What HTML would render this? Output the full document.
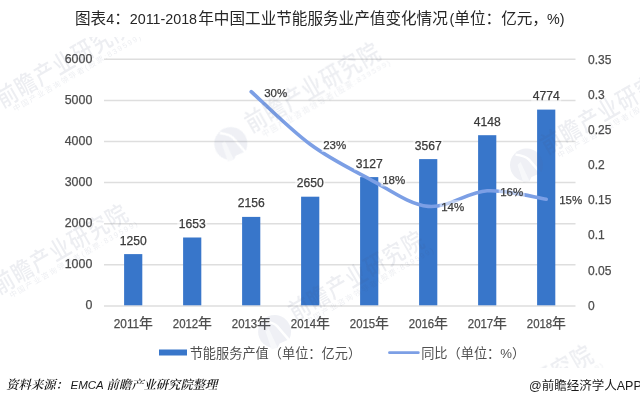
<!DOCTYPE html>
<html lang="zh-CN"><head><meta charset="utf-8"><title>图表4：2011-2018年中国工业节能服务业产值变化情况</title>
<style>html,body{margin:0;padding:0;background:#fff;}body{width:640px;height:404px;overflow:hidden;position:relative;font-family:"Liberation Sans", "Noto Sans CJK SC", sans-serif;}svg{position:absolute;left:0;top:0;display:block}text{font-family:"Liberation Sans", "Noto Sans CJK SC", sans-serif;}</style></head><body>
<svg width="640" height="404" viewBox="0 0 640 404">
<rect width="640" height="404" fill="#fff"/>
<g stroke="#dedede" stroke-width="1.5">
<line x1="104" y1="305.90" x2="575.5" y2="305.90"/>
<line x1="104" y1="264.80" x2="575.5" y2="264.80"/>
<line x1="104" y1="223.70" x2="575.5" y2="223.70"/>
<line x1="104" y1="182.60" x2="575.5" y2="182.60"/>
<line x1="104" y1="141.50" x2="575.5" y2="141.50"/>
<line x1="104" y1="100.40" x2="575.5" y2="100.40"/>
<line x1="104" y1="59.30" x2="575.5" y2="59.30"/>
</g>
<g fill="#3876ca">
<rect x="124.1" y="254.1" width="18.2" height="51.2"/>
<rect x="183.1" y="237.5" width="18.2" height="67.8"/>
<rect x="242.1" y="216.9" width="18.2" height="88.4"/>
<rect x="301.1" y="196.7" width="18.2" height="108.6"/>
<rect x="360.1" y="177.1" width="18.2" height="128.2"/>
<rect x="419.1" y="159.1" width="18.2" height="146.2"/>
<rect x="478.1" y="135.2" width="18.2" height="170.1"/>
<rect x="537.1" y="109.6" width="18.2" height="195.7"/>
</g>
<path d="M251.2,91.6 C261.0,100.4 290.5,129.8 310.2,144.3 C329.9,158.9 349.5,168.4 369.2,178.8 C388.9,189.1 408.5,204.4 428.2,206.4 C447.9,208.4 467.5,192.0 487.2,190.8 C506.9,189.6 536.4,197.8 546.2,199.2" fill="none" stroke="#7c9fe5" stroke-width="3.6" stroke-linecap="round" stroke-linejoin="round"/>
<g fill="#4c4c4c" stroke="#4c4c4c" stroke-width="0.25" font-size="12.4" text-anchor="end">
<text x="92.3" y="309.1">0</text>
<text x="92.3" y="268.0">1000</text>
<text x="92.3" y="226.9">2000</text>
<text x="92.3" y="185.8">3000</text>
<text x="92.3" y="144.7">4000</text>
<text x="92.3" y="103.6">5000</text>
<text x="92.3" y="62.5">6000</text>
</g>
<g fill="#4c4c4c" stroke="#4c4c4c" stroke-width="0.25" font-size="12" text-anchor="start">
<text x="588" y="309.6">0</text>
<text x="588" y="274.5">0.05</text>
<text x="588" y="239.3">0.1</text>
<text x="588" y="204.2">0.15</text>
<text x="588" y="169.0">0.2</text>
<text x="588" y="133.9">0.25</text>
<text x="588" y="98.7">0.3</text>
<text x="588" y="63.6">0.35</text>
</g>
<g fill="#4c4c4c" stroke="#4c4c4c" stroke-width="0.25" font-size="12.7">
<text x="113.8" y="327.6" textLength="25.4" lengthAdjust="spacingAndGlyphs">2011</text><text x="139.1" y="327.9" font-size="13.8">年</text>
<text x="172.8" y="327.6" textLength="25.4" lengthAdjust="spacingAndGlyphs">2012</text><text x="198.1" y="327.9" font-size="13.8">年</text>
<text x="231.8" y="327.6" textLength="25.4" lengthAdjust="spacingAndGlyphs">2013</text><text x="257.1" y="327.9" font-size="13.8">年</text>
<text x="290.8" y="327.6" textLength="25.4" lengthAdjust="spacingAndGlyphs">2014</text><text x="316.1" y="327.9" font-size="13.8">年</text>
<text x="349.8" y="327.6" textLength="25.4" lengthAdjust="spacingAndGlyphs">2015</text><text x="375.1" y="327.9" font-size="13.8">年</text>
<text x="408.8" y="327.6" textLength="25.4" lengthAdjust="spacingAndGlyphs">2016</text><text x="434.1" y="327.9" font-size="13.8">年</text>
<text x="467.8" y="327.6" textLength="25.4" lengthAdjust="spacingAndGlyphs">2017</text><text x="493.1" y="327.9" font-size="13.8">年</text>
<text x="526.8" y="327.6" textLength="25.4" lengthAdjust="spacingAndGlyphs">2018</text><text x="552.1" y="327.9" font-size="13.8">年</text>
</g>
<g fill="#fff" fill-opacity="0.5">
<rect x="118.2" y="233.2" width="30" height="14"/>
<rect x="177.2" y="216.6" width="30" height="14"/>
<rect x="236.2" y="196.0" width="30" height="14"/>
<rect x="295.2" y="175.8" width="30" height="14"/>
<rect x="354.2" y="156.2" width="30" height="14"/>
<rect x="413.2" y="138.2" width="30" height="14"/>
<rect x="472.2" y="114.3" width="30" height="14"/>
<rect x="531.2" y="88.7" width="30" height="14"/>
<rect x="262.7" y="85.3" width="26" height="14"/>
<rect x="321.7" y="138.0" width="26" height="14"/>
<rect x="380.7" y="172.5" width="26" height="14"/>
<rect x="439.7" y="200.1" width="26" height="14"/>
<rect x="498.7" y="184.5" width="26" height="14"/>
<rect x="557.7" y="192.9" width="26" height="14"/>
</g>
<g fill="#3a3a3a" stroke="#3a3a3a" stroke-width="0.25" font-size="12.1" text-anchor="middle">
<text x="133.2" y="244.5">1250</text>
<text x="192.2" y="227.9">1653</text>
<text x="251.2" y="207.3">2156</text>
<text x="310.2" y="187.1">2650</text>
<text x="369.2" y="167.5">3127</text>
<text x="428.2" y="149.5">3567</text>
<text x="487.2" y="125.6">4148</text>
<text x="546.2" y="100.0">4774</text>
</g>
<g fill="#3a3a3a" stroke="#3a3a3a" stroke-width="0.25" font-size="11.5" text-anchor="start">
<text x="264.2" y="96.6">30%</text>
<text x="323.2" y="149.3">23%</text>
<text x="382.2" y="183.8">18%</text>
<text x="441.2" y="211.4">14%</text>
<text x="500.2" y="195.8">16%</text>
<text x="559.2" y="204.2">15%</text>
</g>
<rect x="159" y="349.5" width="28" height="6" fill="#3876ca"/>
<text x="189.7" y="357.5" font-size="13.2" fill="#505050">节能服务产值（单位：亿元）</text>
<line x1="389.5" y1="352.7" x2="418.3" y2="352.7" stroke="#7c9fe5" stroke-width="2.8" stroke-linecap="round"/>
<text x="421.2" y="357.5" font-size="13.2" fill="#505050">同比（单位：%）</text>
<clipPath id="wmclip"><rect x="0" y="37" width="640" height="331"/></clipPath>
<mask id="lgm" maskUnits="userSpaceOnUse" x="-20" y="-20" width="40" height="40"><circle cx="0" cy="0" r="16.5" fill="#fff"/><path d="M-11,-10.5 Q-1,-9.5 2.5,-5.5 L15,9" fill="none" stroke="#000" stroke-width="2.4"/><path d="M2,18 L5,12 L17.5,6.5 L20,18 Z" fill="#000"/><path d="M-6,-3 L3,16 L-3,18 L-9,0 Z" fill="#777"/></mask>
<g id="wm" clip-path="url(#wmclip)" fill="#47557a" opacity="0.1">
<g transform="translate(3 109) rotate(-30)">
<g transform="rotate(30) translate(-21 9.6)"><rect x="-20" y="-20" width="40" height="40" mask="url(#lgm)" fill="#5a6c9c"/></g>
<text x="0" y="-1" font-size="24.5" font-weight="500" textLength="180" lengthAdjust="spacing" transform="scale(0.84 1)">前瞻产业研究院</text>
<text x="9" y="8.5" font-size="7.6" textLength="146" lengthAdjust="spacing">中国产业咨询领导者(股票:839599)</text>
</g>
<g transform="translate(251.8 134) rotate(-30)">
<g transform="rotate(30) translate(-21 9.6)"><rect x="-20" y="-20" width="40" height="40" mask="url(#lgm)" fill="#5a6c9c"/></g>
<text x="0" y="-1" font-size="24.5" font-weight="500" textLength="180" lengthAdjust="spacing" transform="scale(0.84 1)">前瞻产业研究院</text>
<text x="9" y="8.5" font-size="7.6" textLength="146" lengthAdjust="spacing">中国产业咨询领导者(股票:839599)</text>
</g>
<g transform="translate(547.5 155.5) rotate(-30)">
<g transform="rotate(30) translate(-21 9.6)"><rect x="-20" y="-20" width="40" height="40" mask="url(#lgm)" fill="#5a6c9c"/></g>
<text x="0" y="-1" font-size="24.5" font-weight="500" textLength="180" lengthAdjust="spacing" transform="scale(0.84 1)">前瞻产业研究院</text>
<text x="9" y="8.5" font-size="7.6" textLength="146" lengthAdjust="spacing">中国产业咨询领导者(股票:839599)</text>
</g>
<g transform="translate(-0.6 295.5) rotate(-30)">
<g transform="rotate(30) translate(-21 9.6)"><rect x="-20" y="-20" width="40" height="40" mask="url(#lgm)" fill="#5a6c9c"/></g>
<text x="0" y="-1" font-size="24.5" font-weight="500" textLength="180" lengthAdjust="spacing" transform="scale(0.84 1)">前瞻产业研究院</text>
<text x="9" y="8.5" font-size="7.6" textLength="146" lengthAdjust="spacing">中国产业咨询领导者(股票:839599)</text>
</g>
<g transform="translate(295.6 322) rotate(-30)">
<g transform="rotate(30) translate(-21 9.6)"><rect x="-20" y="-20" width="40" height="40" mask="url(#lgm)" fill="#5a6c9c"/></g>
<text x="0" y="-1" font-size="24.5" font-weight="500" textLength="180" lengthAdjust="spacing" transform="scale(0.84 1)">前瞻产业研究院</text>
<text x="9" y="8.5" font-size="7.6" textLength="146" lengthAdjust="spacing">中国产业咨询领导者(股票:839599)</text>
</g>
<g transform="translate(464.7 436.5) rotate(-30)">
<g transform="rotate(30) translate(-21 9.6)"><rect x="-20" y="-20" width="40" height="40" mask="url(#lgm)" fill="#5a6c9c"/></g>
<text x="0" y="-1" font-size="24.5" font-weight="500" textLength="180" lengthAdjust="spacing" transform="scale(0.84 1)">前瞻产业研究院</text>
<text x="9" y="8.5" font-size="7.6" textLength="146" lengthAdjust="spacing">中国产业咨询领导者(股票:839599)</text>
</g>
</g>
<text x="75" y="24" fill="#262626" font-size="15.6"><tspan>图表</tspan><tspan font-size="14.3">4</tspan><tspan>：</tspan><tspan font-size="14.3">2011-2018</tspan><tspan dx="1.2">年中国工业节能服务业产值变化情况</tspan><tspan font-size="14.3" dx="1.8">(</tspan><tspan>单位：亿元，</tspan><tspan font-size="14.3" dx="-1">%)</tspan></text>
<text y="389" font-size="12.3" fill="#1a1a1a" font-style="italic" font-weight="600" style="font-family:'Liberation Sans','Noto Serif CJK SC',serif"><tspan x="6.3">资料来源：</tspan><tspan x="70.5" font-size="11.5" font-weight="400">EMCA</tspan><tspan x="106.6">前瞻产业研究院整理</tspan></text>
<text x="641.8" y="389.5" font-size="12.5" fill="#1a1a1a" text-anchor="end">@前瞻经济学人APP</text>
</svg></body></html>
